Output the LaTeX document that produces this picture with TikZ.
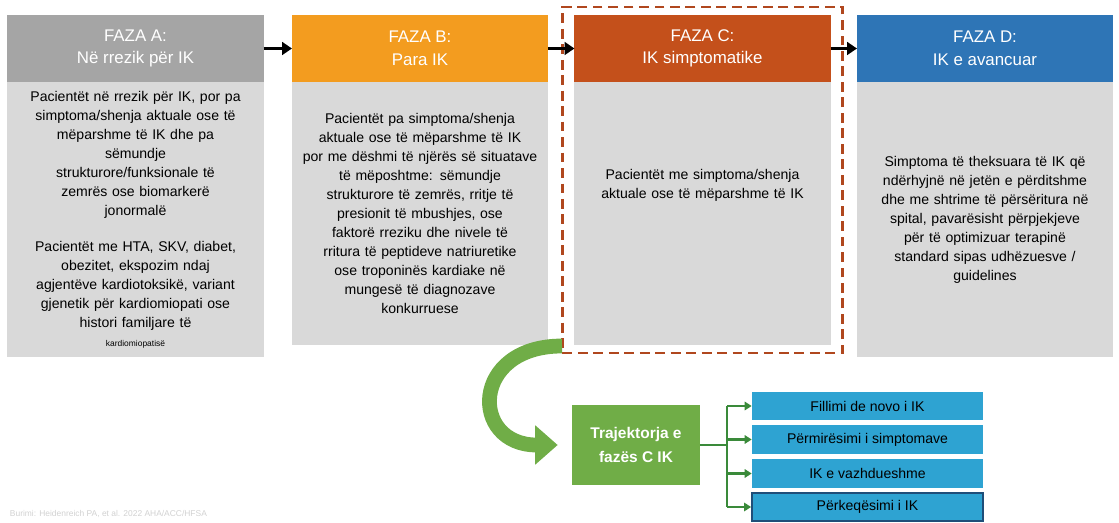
\documentclass[tikz,border=0pt]{standalone}
\usepackage{fontspec}
\setmainfont{Liberation Sans}
\usetikzlibrary{positioning,fit,arrows.meta}

\definecolor{grigioA}{HTML}{A5A5A5}
\definecolor{corpoGr}{HTML}{D9D9D9}
\definecolor{aranB}{HTML}{F39C1F}
\definecolor{rossoC}{HTML}{C4501B}
\definecolor{bluD}{HTML}{2E75B6}
\definecolor{bordoC}{HTML}{B0471E}
\definecolor{verdeT}{HTML}{70AD47}
\definecolor{verdeL}{HTML}{3A8A3A}
\definecolor{celeste}{HTML}{2EA3D2}
\definecolor{bluscuro}{HTML}{1F4E79}

\tikzset{
  hdr/.style={rectangle, minimum width=6.4cm, minimum height=1.675cm, text=white,
    align=center, font=\fontsize{12}{16}\selectfont, inner sep=0pt, outer sep=0pt},
  corpo/.style={rectangle, fill=corpoGr, minimum width=6.4cm, text width=6.3cm,
    align=center, font=\fontsize{10}{13.5}\selectfont, inner sep=0pt, outer sep=0pt},
  freccia/.style={line width=2.5pt, -{Triangle[length=7pt,width=9pt]}},
  traiet/.style={rectangle, fill=verdeT, minimum width=3.2cm, minimum height=2cm,
    text=white, align=center, font=\bfseries\fontsize{11}{17}\selectfont},
  esito/.style={rectangle, fill=celeste, minimum width=5.775cm, minimum height=0.7cm,
    font=\fontsize{10}{12}\selectfont, inner sep=0pt},
  ramo/.style={verdeL, line width=1.6pt},
  ramofr/.style={ramo, -{Triangle[length=5pt,width=6pt]}}
}

\begin{document}
\begin{tikzpicture}[x=0.025cm, y=-0.025cm]
\useasboundingbox (0,0) rectangle (1119,523);

% Fazat
\node[hdr, fill=grigioA] (hA) at (135.5,48.5) {FAZA A:\\Në rrezik për IK};
\node[hdr, fill=aranB] (hB) at (420,48.5) {FAZA B:\\Para IK};
\node[hdr, fill=rossoC] (hC) at (702.5,48.5) {FAZA C:\\IK simptomatike};
\node[hdr, fill=bluD] (hD) at (985,48.5) {FAZA D:\\IK e avancuar};

\node[corpo, minimum height=6.875cm, below=0pt of hA] (bA) {Pacientët në rrezik për IK, por pa\\
  simptoma/shenja aktuale ose të\\mëparshme të IK dhe pa\\sëmundje\\
  strukturore/funksionale të\\zemrës ose biomarkerë\\jonormalë\\[12pt]
  Pacientët me HTA, SKV, diabet,\\obezitet, ekspozim ndaj\\
  agjentëve kardiotoksikë, variant\\gjenetik për kardiomiopati ose\\
  histori familjare të\\{\fontsize{6}{7}\selectfont kardiomiopatisë}};
\node[corpo, minimum height=6.575cm, below=0pt of hB] (bB) {Pacientët pa simptoma/shenja\\
  aktuale ose të mëparshme të IK\\por me dëshmi të njërës së situatave\\
  të mëposhtme: sëmundje\\strukturore të zemrës, rritje të\\
  presionit të mbushjes, ose\\faktorë rreziku dhe nivele të\\
  rritura të peptideve natriuretike\\ose troponinës kardiake në\\
  mungesë të diagnozave\\konkurruese};
\node[corpo, minimum height=6.575cm, below=0pt of hC] (bC) {Pacientët me simptoma/shenja\\
  aktuale ose të mëparshme të IK\\[28pt]\mbox{}};
\node[corpo, minimum height=6.875cm, below=0pt of hD] (bD) {Simptoma të theksuara të IK që\\
  ndërhyjnë në jetën e përditshme\\dhe me shtrime të përsëritura në\\
  spital, pavarësisht përpjekjeve\\për të optimizuar terapinë\\
  standard sipas udhëzuesve /\\guidelines};

\node[draw=bordoC, line width=2pt, dash pattern=on 7pt off 4pt, inner xsep=0.3cm,
  inner ysep=0.2cm, fit=(hC)(bC)] (quadroC) {};

% Trajektorja
\node[traiet] (traj) at (636,445) {Trajektorja e\\fazës C IK};
\node[esito] (e1) at (867.5,406) {Fillimi de novo i IK};
\node[esito] (e2) at (867.5,439.5) {Përmirësimi i simptomave};
\node[esito] (e3) at (867.5,473.5) {IK e vazhdueshme};
\node[esito, draw=bluscuro, line width=1.2pt] (e4) at (867.5,507) {Përkeqësimi i IK};

\coordinate (nodo) at (727,445);
\coordinate (curva) at (562,346);

% Lidhjet
\draw[freccia] (hA) -- (hB);
\draw[freccia] (hB) -- (hC);
\draw[freccia] (hC) -- (hD);

\draw[verdeT, line width=10.5pt, shorten >=0.35cm, -{Triangle[length=16pt,width=27pt]}]
  (curva) .. controls (470,346) and (470,445) .. (traj.west);

\draw[ramo] (traj.east) -- (nodo);
\draw[ramo] (nodo |- e1) -- (nodo |- e4);
\foreach \i in {1,...,4}
  \draw[ramofr] (nodo |- e\i) -- (e\i.west);

\node[anchor=west, text=black!18, font=\fontsize{6}{7}\selectfont] (fonte) at (5,514)
  {Burimi: Heidenreich PA, et al. 2022 AHA/ACC/HFSA};

\end{tikzpicture}
\end{document}
